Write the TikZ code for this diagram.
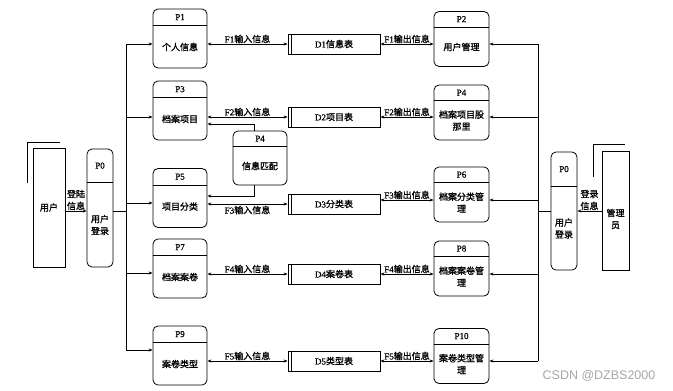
\documentclass[tikz,border=0pt]{standalone}
\usepackage{fontspec}
\setmainfont{Liberation Serif}[FakeBold=0.8]
\newfontfamily\cjk[FakeBold=1.2]{Noto Sans CJK SC}
\newfontfamily\wmfont{Liberation Sans}
\usetikzlibrary{arrows.meta,calc,positioning}
\newcommand{\lbl}{\fontsize{9}{12}\selectfont}
% process box: name, centre, width, height, header depth, id, text
\newcommand{\procbox}[7]{%
  \node[proc, minimum width=#3, minimum height=#4] (#1) at #2 {};
  \draw[line width=0.8pt] ([yshift=-#5]#1.north west) -- ([yshift=-#5]#1.north east);
  \node[font=\lbl, inner sep=0pt] (#1-id) at ([yshift=-#5/2]#1.north) {#6};
  \node[font=\lbl, align=center, inner sep=0pt] (#1-txt) at ($([yshift=-#5]#1.north)!0.5!(#1.south)$) {#7};
}
% data store: name, centre, text
\newcommand{\storebox}[3]{%
  \node[store] (#1) at #2 {#3};
  \draw[line width=0.8pt] ([xshift=3.5]#1.north west) -- ([xshift=3.5]#1.south west);
}
\tikzset{
  proc/.style={draw, rounded corners=5pt, line width=0.8pt, inner sep=0pt},
  store/.style={draw, line width=0.8pt, minimum width=92, minimum height=20, inner sep=0pt, font=\lbl},
  entity/.style={draw, line width=0.8pt, inner sep=0pt, font=\lbl, align=center},
  flow/.style={-{Stealth[length=4pt,width=3pt]}, line width=0.7pt},
  biflow/.style={{Stealth[length=4pt,width=3pt]}-{Stealth[length=4pt,width=3pt]}, line width=0.7pt},
  link/.style={line width=0.7pt},
  flowlbl/.style={font=\lbl, inner sep=0.5pt, align=center},
}
\begin{document}
\begin{tikzpicture}[x=1pt,y=-1pt]
  \useasboundingbox (0,0) rectangle (673,391);
  % external entities
  \node[entity, minimum width=32, minimum height=119] (user) at (49,207.5) {\cjk 用户};
  \draw[link] (27,183) -- (27,142) -- (60,142);
  \node[entity, minimum width=27, minimum height=119] (admin) at (615.5,210.5) {};
  \node[font=\lbl, align=center, inner sep=0pt] (admin-txt) at (615.5,219) {\cjk 管理\\\cjk 员};
  \draw[link] (593,177) -- (593,144) -- (625,144);
  % login processes
  \procbox{p0l}{(100,208)}{26}{118}{34}{P0}{\cjk 用户\\\cjk 登录}
  \procbox{p0r}{(564,211)}{26}{118}{35}{P0}{\cjk 用户\\\cjk 登录}
  \draw[line width=1.6pt] ([yshift=-34]p0l.north west) -- ([yshift=-34]p0l.north east);
  \draw[line width=1.6pt] ([yshift=-35]p0r.north west) -- ([yshift=-35]p0r.north east);
  % left column
  \procbox{p1}{(180,38.5)}{54}{59}{17}{P1}{\cjk 个人信息}
  \procbox{p3}{(180,110.5)}{54}{59}{17}{P3}{\cjk 档案项目}
  \procbox{p5}{(180,198)}{54}{59}{17}{P5}{\cjk 项目分类}
  \procbox{p7}{(180,268.5)}{54}{59}{17}{P7}{\cjk 档案案卷}
  \procbox{p9}{(180,355.5)}{54}{59}{17}{P9}{\cjk 案卷类型}
  \procbox{p4m}{(260,158)}{54}{54}{16}{P4}{\cjk 信息匹配}
  % right column
  \procbox{p2}{(461.5,39)}{55}{55}{16}{P2}{\cjk 用户管理}
  \procbox{p4}{(461.5,112.5)}{55}{55}{16}{P4}{\cjk 档案项目股\\\cjk 那里}
  \procbox{p6}{(461.5,194.5)}{55}{55}{16}{P6}{\cjk 档案分类管\\\cjk 理}
  \procbox{p8}{(461.5,268.5)}{55}{55}{16}{P8}{\cjk 档案案卷管\\\cjk 理}
  \procbox{p10}{(461.5,356)}{55}{55}{16}{P10}{\cjk 案卷类型管\\\cjk 理}
  % data stores
  \storebox{d1}{(334,44)}{D1{\cjk 信息表}}
  \storebox{d2}{(334,117)}{D2{\cjk 项目表}}
  \storebox{d3}{(334,204)}{D3{\cjk 分类表}}
  \storebox{d4}{(334,274)}{D4{\cjk 案卷表}}
  \storebox{d5}{(334,361)}{D5{\cjk 类型表}}
  % bus coordinates
  \coordinate (lb1) at (126,44);
  \coordinate (lb2) at (126,117);
  \coordinate (lb3) at (126,203);
  \coordinate (lb4) at (126,273);
  \coordinate (lb5) at (126,350);
  \coordinate (lbm) at (126,211);
  \coordinate (rb1) at (538,44);
  \coordinate (rb2) at (538,117);
  \coordinate (rb3) at (538,200);
  \coordinate (rb4) at (538,274);
  \coordinate (rb5) at (538,361);
  \coordinate (rbm) at (538,211);
  % login flows
  \draw[flow] (user.east |- lbm) -- node[flowlbl, above] {\cjk 登陆\\\cjk 信息} (p0l.west |- lbm);
  \draw[flow] (admin.west |- rbm) -- node[flowlbl, above] {\cjk 登录\\\cjk 信息} (p0r.east |- rbm);
  % left bus
  \draw[link] (p0l.east |- lbm) -- (lbm);
  \draw[link] (lb1) -- (lb5);
  \foreach \c/\p in {lb1/p1, lb2/p3, lb3/p5, lb4/p7, lb5/p9}
    \draw[flow] (\c) -- (\p.west |- \c);
  % right bus
  \draw[link] (p0r.west |- rbm) -- (rbm);
  \draw[link] (rb1) -- (rb5);
  \foreach \c/\p in {rb1/p2, rb2/p4, rb3/p6, rb4/p8, rb5/p10}
    \draw[flow] (\c) -- (\p.east |- \c);
  % input flows
  \draw[biflow] (p1.east |- d1.west) -- node[flowlbl, above] {F1{\cjk 输入信息}} (d1.west);
  \draw[biflow] (p3.east |- d2.west) -- node[flowlbl, above] {F2{\cjk 输入信息}} (d2.west);
  \draw[biflow] (p5.east |- d3.west) -- node[flowlbl, below, yshift=-1] {F3{\cjk 输入信息}} (d3.west);
  \draw[biflow] (p7.east |- d4.west) -- node[flowlbl, above] {F4{\cjk 输入信息}} (d4.west);
  \draw[biflow] (p9.east |- d5.west) -- node[flowlbl, above] {F5{\cjk 输入信息}} (d5.west);
  % output flows
  \draw[biflow] (d1.east) -- node[flowlbl, above] {F1{\cjk 输出信息}} (p2.west |- d1.east);
  \draw[biflow] (d2.east) -- node[flowlbl, above] {F2{\cjk 输出信息}} (p4.west |- d2.east);
  \draw[biflow] ([yshift=4]d3.east) -- node[flowlbl, above] {F3{\cjk 输出信息}} (p6.west |- rb3);
  \draw[biflow] (d4.east) -- node[flowlbl, above] {F4{\cjk 输出信息}} (p8.west |- d4.east);
  \draw[biflow] (d5.east) -- node[flowlbl, above] {F5{\cjk 输出信息}} (p10.west |- d5.east);
  % matching process
  \draw[flow] ([xshift=-6]p4m.north) |- ([yshift=-13.5]p3.east);
  \draw[flow] ([xshift=-6]p4m.south) |- ([yshift=2]p5.east);
  \node[font=\wmfont\fontsize{12.5}{14}\selectfont, text=black!35, inner sep=0pt] (mark) at (599,376) {CSDN @DZBS2000};
\end{tikzpicture}
\end{document}
